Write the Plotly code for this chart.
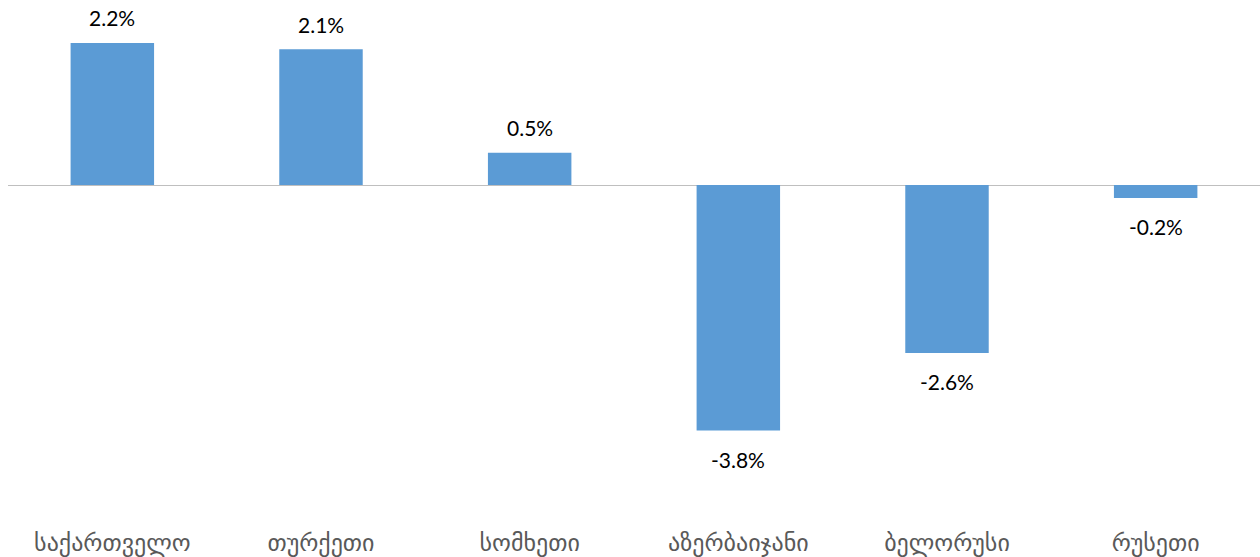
import plotly.graph_objects as go

# Annual change by country, percent
countries = ["საქართველო", "თურქეთი", "სომხეთი", "აზერბაიჯანი", "ბელორუსი", "რუსეთი"]
values = [2.2, 2.1, 0.5, -3.8, -2.6, -0.2]

BAR_COLOR = "#5B9BD5"

fig = go.Figure(
    go.Bar(
        x=countries,
        y=values,
        marker=dict(color=BAR_COLOR, line=dict(width=0)),
        hoverinfo="skip",
    )
)

# Value labels above positive bars, below negative ones
for c, v in zip(countries, values):
    fig.add_annotation(
        x=c,
        y=v,
        text=f"{v:.1f}%",
        showarrow=False,
        yanchor="middle",
        yshift=25 if v >= 0 else -29,
        font=dict(family="Lato, 'Open Sans', sans-serif", size=21, color="#000000"),
    )

fig.update_layout(
    width=1260,
    height=557,
    margin=dict(l=8, r=0, t=0, b=37),
    paper_bgcolor="white",
    plot_bgcolor="white",
    bargap=0.6,
    showlegend=False,
    xaxis=dict(
        showgrid=False,
        showline=False,
        ticks="",
        automargin=False,
        ticklabelstandoff=6,
        tickfont=dict(family="DejaVu Sans, sans-serif", size=24, color="#595959"),
    ),
    yaxis=dict(
        range=[-5.186, 2.864],
        showgrid=False,
        showticklabels=False,
        zeroline=True,
        zerolinecolor="#BFBFBF",
        zerolinewidth=1.3,
    ),
)

fig.write_html("out.html")
